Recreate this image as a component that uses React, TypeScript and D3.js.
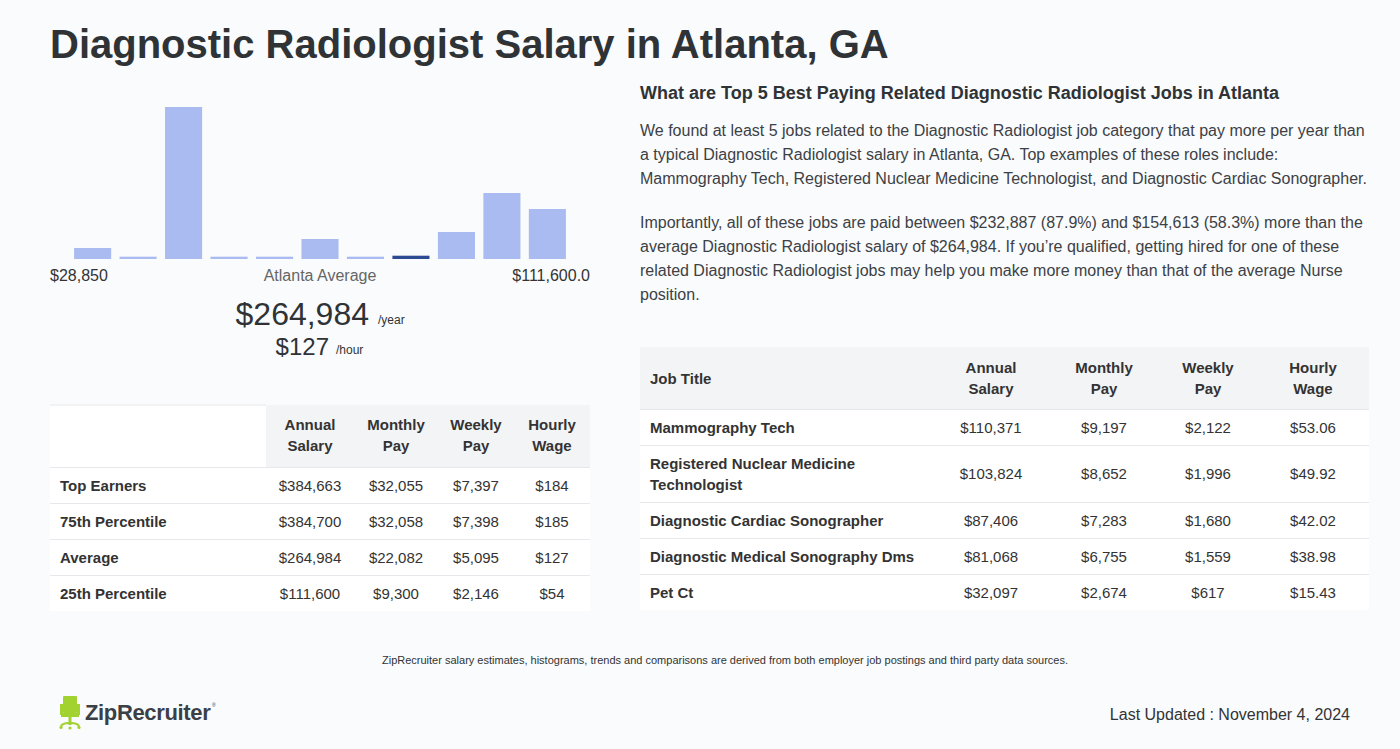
import React from "react";
import * as d3 from "d3";

const TITLE = "Diagnostic Radiologist Salary in Atlanta, GA";
const histBins = ["b1", "b2", "b3", "b4", "b5", "b6", "b7", "b8", "b9", "b10", "b11"];
const histValues = [11, 2.3, 152, 2.3, 2.3, 20, 2.3, 3.3, 27, 66, 50];
const highlightBin = 7;
const histMinLabel = "$28,850";
const histMaxLabel = "$111,600.0";
const avgLabel = "Atlanta Average";
const avgYear = "$264,984";
const avgHour = "$127";

const leftCols = ["Annual|Salary", "Monthly|Pay", "Weekly|Pay", "Hourly|Wage"];
const leftRows = ["Top Earners", "75th Percentile", "Average", "25th Percentile"];
const leftAnnual = ["$384,663", "$384,700", "$264,984", "$111,600"];
const leftMonthly = ["$32,055", "$32,058", "$22,082", "$9,300"];
const leftWeekly = ["$7,397", "$7,398", "$5,095", "$2,146"];
const leftHourly = ["$184", "$185", "$127", "$54"];

const rightHeading = "What are Top 5 Best Paying Related Diagnostic Radiologist Jobs in Atlanta";
const para1 = [
  "We found at least 5 jobs related to the Diagnostic Radiologist job category that pay more per year than",
  "a typical Diagnostic Radiologist salary in Atlanta, GA. Top examples of these roles include:",
  "Mammography Tech, Registered Nuclear Medicine Technologist, and Diagnostic Cardiac Sonographer.",
];
const para2 = [
  "Importantly, all of these jobs are paid between $232,887 (87.9%) and $154,613 (58.3%) more than the",
  "average Diagnostic Radiologist salary of $264,984. If you\u2019re qualified, getting hired for one of these",
  "related Diagnostic Radiologist jobs may help you make more money than that of the average Nurse",
  "position.",
];
const rightCols = ["Annual|Salary", "Monthly|Pay", "Weekly|Pay", "Hourly|Wage"];
const jobTitles = [
  "Mammography Tech",
  "Registered Nuclear Medicine|Technologist",
  "Diagnostic Cardiac Sonographer",
  "Diagnostic Medical Sonography Dms",
  "Pet Ct",
];
const jobAnnual = ["$110,371", "$103,824", "$87,406", "$81,068", "$32,097"];
const jobMonthly = ["$9,197", "$8,652", "$7,283", "$6,755", "$2,674"];
const jobWeekly = ["$2,122", "$1,996", "$1,680", "$1,559", "$617"];
const jobHourly = ["$53.06", "$49.92", "$42.02", "$38.98", "$15.43"];

const footnote =
  "ZipRecruiter salary estimates, histograms, trends and comparisons are derived from both employer job postings and third party data sources.";
const lastUpdated = "Last Updated : November 4, 2024";

const FONT = "'Liberation Sans', Arial, Helvetica, sans-serif";
const BG = "#f9fbfd";
const DARK = "#2f3336";
const TXT = "#333";
const HEADBG = "#f3f4f6";
const LINE = "#e6e8eb";

function Histogram() {
  const x = d3.scaleBand<string>().domain(histBins).range([70, 570]).paddingInner(0.185).paddingOuter(0.09);
  const y = d3.scaleLinear().domain([0, 152]).range([259, 107]);
  return (
    <g>
      {histValues.map((v, i) => (
        <rect
          key={i}
          x={x(histBins[i])}
          y={y(v)}
          width={x.bandwidth()}
          height={259 - y(v)}
          fill={i === highlightBin ? "#2e4a92" : "#a9bbf0"}
        />
      ))}
      <text x={50} y={281} fontSize={16} fill={TXT}>{histMinLabel}</text>
      <text x={320} y={281} fontSize={16} fill="#666" textAnchor="middle">{avgLabel}</text>
      <text x={590} y={281} fontSize={16} fill={TXT} textAnchor="end">{histMaxLabel}</text>
      <text x={369} y={325} fontSize={32} fill={DARK} textAnchor="end">{avgYear}</text>
      <text x={378} y={324} fontSize={12} fill={TXT}>/year</text>
      <text x={329} y={355} fontSize={24} fill={DARK} textAnchor="end">{avgHour}</text>
      <text x={336} y={354} fontSize={12} fill={TXT}>/hour</text>
    </g>
  );
}

function LeftTable() {
  const top = 405;
  const headH = 62;
  const rowH = 36;
  const colX = [310, 396, 476, 552];
  const values = [leftAnnual, leftMonthly, leftWeekly, leftHourly];
  const rows = d3.range(leftRows.length);
  return (
    <g>
      <rect x={50} y={top} width={216} height={headH} fill="#fff" />
      <rect x={266} y={top} width={324} height={headH} fill={HEADBG} />
      <line x1={50} x2={266} y1={top} y2={top} stroke={LINE} />
      {leftCols.map((c, i) => (
        <text key={i} x={colX[i]} textAnchor="middle" fontSize={15} fontWeight="bold" fill={TXT}>
          {c.split("|").map((l, j) => (
            <tspan key={j} x={colX[i]} y={top + 25 + j * 21}>{l}</tspan>
          ))}
        </text>
      ))}
      {rows.map((r) => {
        const y0 = top + headH + r * rowH;
        return (
          <g key={r}>
            <rect x={50} y={y0} width={540} height={rowH} fill="#fff" />
            <line x1={50} x2={590} y1={y0 + 0.5} y2={y0 + 0.5} stroke={LINE} />
            <text x={60} y={y0 + 23.5} fontSize={15} fontWeight="bold" fill={TXT}>{leftRows[r]}</text>
            {values.map((vals, c) => (
              <text key={c} x={colX[c]} y={y0 + 23.5} fontSize={15} fill={TXT} textAnchor="middle">{vals[r]}</text>
            ))}
          </g>
        );
      })}
    </g>
  );
}

function RightTable() {
  const top = 347;
  const headH = 62;
  const rowHs = jobTitles.map((t) => (t.includes("|") ? 57 : 36));
  const colX = [991, 1104, 1208, 1313];
  const values = [jobAnnual, jobMonthly, jobWeekly, jobHourly];
  let acc = top + headH;
  const ys = rowHs.map((h) => {
    const v = acc;
    acc += h;
    return v;
  });
  return (
    <g>
      <rect x={640} y={top} width={729} height={headH} fill={HEADBG} />
      <text x={650} y={top + 37} fontSize={15} fontWeight="bold" fill={TXT}>Job Title</text>
      {rightCols.map((c, i) => (
        <text key={i} x={colX[i]} textAnchor="middle" fontSize={15} fontWeight="bold" fill={TXT}>
          {c.split("|").map((l, j) => (
            <tspan key={j} x={colX[i]} y={top + 26 + j * 21}>{l}</tspan>
          ))}
        </text>
      ))}
      {jobTitles.map((t, r) => {
        const y0 = ys[r];
        const h = rowHs[r];
        const mid = y0 + h / 2 + 5.5;
        const lines = t.split("|");
        return (
          <g key={r}>
            <rect x={640} y={y0} width={729} height={h} fill="#fff" />
            <line x1={640} x2={1369} y1={y0 + 0.5} y2={y0 + 0.5} stroke={LINE} />
            <text fontSize={15} fontWeight="bold" fill={TXT}>
              {lines.map((l, j) => (
                <tspan key={j} x={650} y={mid - (lines.length - 1) * 10.5 + j * 21}>{l}</tspan>
              ))}
            </text>
            {values.map((vals, c) => (
              <text key={c} x={colX[c]} y={mid} fontSize={15} fill={TXT} textAnchor="middle">{vals[r]}</text>
            ))}
          </g>
        );
      })}
    </g>
  );
}

function Logo() {
  const g = "#a2d22f";
  return (
    <g>
      <rect x={63} y={696} width={14} height={17} rx={1} fill={g} />
      <rect x={60} y={704} width={3} height={11} fill={g} />
      <rect x={77} y={704} width={3} height={11} fill={g} />
      <rect x={61} y={713} width={18} height={4} fill={g} />
      <rect x={68.5} y={717} width={3} height={8} fill={g} />
      <path d="M61 727 Q61 723 70 723 Q79 723 79 727" fill="none" stroke={g} strokeWidth={2.2} />
      <circle cx={61} cy={727.5} r={1.6} fill={g} />
      <circle cx={79} cy={727.5} r={1.6} fill={g} />
      <circle cx={70} cy={728} r={1.6} fill={g} />
      <text x={85} y={720} fontSize={22} fontWeight="bold" fill="#3b4046" letterSpacing={-0.35}>ZipRecruiter</text>
      <text x={212} y={707} fontSize={5} fill="#3b4046">®</text>
    </g>
  );
}

export default function App() {
  return (
    <svg
      width={1400}
      height={749}
      style={{ position: "absolute", left: 0, top: 0, display: "block" }}
      fontFamily={FONT}
    >
      <rect width={1400} height={749} fill={BG} />
      <text x={50} y={58} fontSize={40} fontWeight="bold" fill={DARK}>{TITLE}</text>
      <Histogram />
      <LeftTable />
      <text x={640} y={99} fontSize={18} fontWeight="bold" fill={DARK}>{rightHeading}</text>
      <text fontSize={16} fill="#3d4145">
        {para1.map((l, i) => (
          <tspan key={i} x={640} y={136 + i * 24}>{l}</tspan>
        ))}
      </text>
      <text fontSize={16} fill="#3d4145">
        {para2.map((l, i) => (
          <tspan key={i} x={640} y={228 + i * 24}>{l}</tspan>
        ))}
      </text>
      <RightTable />
      <text x={725} y={664} fontSize={11} fill={TXT} textAnchor="middle">{footnote}</text>
      <Logo />
      <text x={1350} y={720} fontSize={16} fill={TXT} textAnchor="end">{lastUpdated}</text>
    </svg>
  );
}
